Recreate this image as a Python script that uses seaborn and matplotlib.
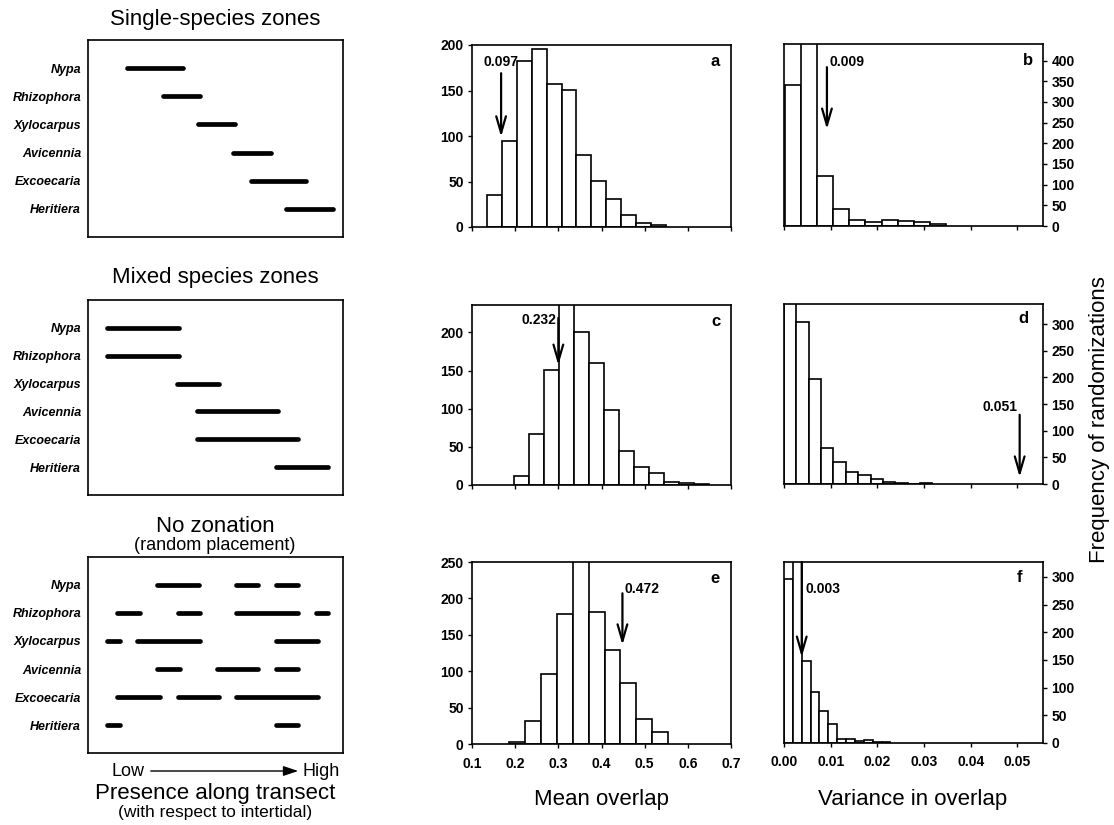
import numpy as np
import matplotlib
matplotlib.use("Agg")
import matplotlib.pyplot as plt
import seaborn as sns

sns.set_style("ticks", {"axes.edgecolor": "black", "text.color": "black",
                        "xtick.color": "black", "ytick.color": "black",
                        "axes.labelcolor": "black"})
plt.rcParams["font.family"] = ["Liberation Sans", "DejaVu Sans"]

W, H = 1114, 825

species = ["Nypa", "Rhizophora", "Xylocarpus", "Avicennia", "Excoecaria", "Heritiera"]

# presence along transect, 0 = low, 100 = high
single_start = [15.2, 29.3, 43.0, 56.7, 63.8, 77.6]
single_end = [37.1, 43.9, 57.6, 71.6, 85.3, 96.0]

mixed_start = [7.6, 7.6, 34.8, 42.6, 42.6, 73.7]
mixed_end = [35.8, 35.8, 51.4, 74.6, 82.5, 94.0]

random_species = ["Nypa", "Nypa", "Nypa",
                  "Rhizophora", "Rhizophora", "Rhizophora", "Rhizophora",
                  "Xylocarpus", "Xylocarpus", "Xylocarpus",
                  "Avicennia", "Avicennia", "Avicennia",
                  "Excoecaria", "Excoecaria", "Excoecaria",
                  "Heritiera", "Heritiera"]
random_start = [27.2, 58.0, 73.7,
                11.5, 35.2, 58.0, 89.4,
                7.6, 19.3, 73.7,
                27.2, 50.5, 73.7,
                11.5, 35.2, 58.0,
                7.6, 73.7]
random_end = [43.6, 66.8, 82.5,
              20.4, 43.9, 82.5, 94.1,
              12.5, 43.9, 90.3,
              36.1, 66.8, 82.5,
              28.2, 51.5, 90.3,
              12.5, 82.5]

# histogram bins (first edge, width) and counts per bin
a_bins = (0.1356, 0.0344)
a_counts = [35, 94, 182, 196, 157, 151, 79, 51, 31, 13, 4, 2]
b_bins = (0.0002, 0.00345)
b_counts = [341, 480, 120, 41, 15, 9, 15, 13, 9, 5]
c_bins = (0.1977, 0.0347)
c_counts = [12, 67, 151, 260, 200, 160, 98, 44, 23, 16, 4, 2, 1]
d_bins = (0.0, 0.00265)
d_counts = [360, 304, 197, 68, 42, 22, 17, 9, 3, 1, 0, 1]
e_bins = (0.1863, 0.0368)
e_counts = [3, 31, 96, 179, 300, 182, 129, 84, 34, 16]
f_bins = (0.0, 0.0019)
f_counts = [296, 350, 148, 92, 58, 34, 8, 8, 3, 5, 2, 1]

mean_ticks = [0.1, 0.2, 0.3, 0.4, 0.5, 0.6, 0.7]
var_ticks = [0.00, 0.01, 0.02, 0.03, 0.04, 0.05]


def rect(x0, y0, x1, y1):
    return [x0 / W, 1 - y1 / H, (x1 - x0) / W, (y1 - y0) / H]


def zone_panel(box, starts, ends, names, title, title_y):
    ax = fig.add_axes(rect(*box))
    rows = [species.index(n) + 1 for n in names]
    ax.hlines(rows, starts, ends, color="black", lw=3.4, capstyle="round")
    ax.set_xlim(0, 100)
    ax.set_ylim(7, 0)
    ax.set_xticks([])
    ax.set_yticks(range(1, 7))
    ax.set_yticklabels(species, fontsize=9, fontweight="bold", fontstyle="italic")
    ax.tick_params(axis="y", length=0, pad=5)
    for s in ax.spines.values():
        s.set_linewidth(1.2)
    fig.text(215 / W, 1 - title_y / H, title, ha="center", va="center", fontsize=16)
    return ax


def hist_panel(box, bins, counts, ymax, yticks, xlim, xticks, right=False, xlabels=False, fmt="%.1f"):
    ax = fig.add_axes(rect(*box))
    start, width = bins
    edges = start + width * np.arange(len(counts) + 1)
    centers = edges[:-1] + width / 2
    sns.histplot(x=list(centers), weights=list(counts), bins=list(edges), ax=ax, color="white",
                 edgecolor="black", linewidth=1.2, alpha=1)
    ax.set_xlim(*xlim)
    ax.set_ylim(0, ymax)
    ax.set_yticks(yticks)
    ax.set_xticks(xticks)
    if xlabels:
        ax.set_xticklabels([fmt % t for t in xticks])
    else:
        ax.set_xticklabels([])
    if right:
        ax.yaxis.tick_right()
    ax.set_xlabel("")
    ax.set_ylabel("")
    ax.tick_params(direction="out", length=3, width=1, labelsize=10, pad=3)
    ax.tick_params(axis="x", pad=6)
    for lab in ax.get_xticklabels() + ax.get_yticklabels():
        lab.set_fontweight("bold")
    for s in ax.spines.values():
        s.set_linewidth(1.2)
    return ax


def mark(ax, x, y_tip, y_tail, label, tx, ty, ha, letter, lx, ly):
    ax.annotate("", xy=(x, y_tip), xytext=(x, y_tail),
                arrowprops=dict(arrowstyle="->,head_length=1.2,head_width=0.35",
                                lw=1.6, color="black", shrinkA=0, shrinkB=0))
    ax.text(tx, ty, label, ha=ha, va="center", fontsize=10, fontweight="bold")
    ax.text(lx, ly, letter, transform=ax.transAxes, ha="center", va="center",
            fontsize=12, fontweight="bold")


fig = plt.figure(figsize=(W / 100, H / 100), dpi=100)

zone_panel((88, 40, 343, 237), single_start, single_end, species, "Single-species zones", 20)
zone_panel((88, 300, 343, 495), mixed_start, mixed_end, species, "Mixed species zones", 278)
zone_panel((88, 557, 343, 753), random_start, random_end, random_species, "No zonation", 527)
fig.text(215 / W, 1 - 546 / H, "(random placement)", ha="center", va="center", fontsize=13)

fig.text(128 / W, 1 - 771 / H, "Low", ha="center", va="center", fontsize=13)
fig.text(303 / W, 1 - 771 / H, "High", ha="left", va="center", fontsize=13)
fig.add_artist(matplotlib.patches.FancyArrowPatch(
    (148 / W, 1 - 771 / H), (301 / W, 1 - 771 / H), transform=fig.transFigure,
    arrowstyle="-|>,head_length=0.9,head_width=0.3", mutation_scale=10,
    lw=1.0, color="black"))
fig.text(215 / W, 1 - 793 / H, "Presence along transect", ha="center", va="center", fontsize=16)
fig.text(215 / W, 1 - 812 / H, "(with respect to intertidal)", ha="center", va="center", fontsize=12.5)

mx = (0.1, 0.7)
vx = (0.0, 0.0555)
ax_a = hist_panel((472, 45, 731, 227), a_bins, a_counts, 200, range(0, 201, 50), mx, mean_ticks)
ax_b = hist_panel((784, 44, 1043, 226), b_bins, b_counts, 440, range(0, 401, 50), vx, var_ticks, right=True)
ax_c = hist_panel((472, 305, 731, 485), c_bins, c_counts, 236, range(0, 201, 50), mx, mean_ticks)
ax_d = hist_panel((784, 304, 1043, 484), d_bins, d_counts, 338, range(0, 301, 50), vx, var_ticks, right=True)
ax_e = hist_panel((472, 562, 731, 744), e_bins, e_counts, 250, range(0, 251, 50), mx, mean_ticks, xlabels=True)
ax_f = hist_panel((784, 562, 1043, 743), f_bins, f_counts, 327, range(0, 301, 50), vx, var_ticks,
                  right=True, xlabels=True, fmt="%.2f")

mark(ax_a, 0.1674, 99, 169, "0.097", 0.1674, 181, "center", "a", 0.938, 0.907)
mark(ax_b, 0.0092, 234, 384, "0.009", 0.0097, 396, "left", "b", 0.942, 0.907)
mark(ax_c, 0.300, 157, 219, "0.232", 0.2953, 216, "right", "c", 0.944, 0.911)
mark(ax_d, 0.0505, 13, 130, "0.051", 0.0500, 145, "right", "d", 0.923, 0.920)
mark(ax_e, 0.4485, 136, 207, "0.472", 0.453, 213, "left", "e", 0.940, 0.912)
mark(ax_f, 0.0038, 155, 327, "0.003", 0.0047, 278, "left", "f", 0.911, 0.917)

fig.text(602 / W, 1 - 800 / H, "Mean overlap", ha="center", va="center", fontsize=16)
fig.text(913 / W, 1 - 800 / H, "Variance in overlap", ha="center", va="center", fontsize=16)
fig.text(1100 / W, 1 - 420 / H, "Frequency of randomizations", ha="center", va="center",
         fontsize=16, rotation=90)

fig.savefig("out.png", dpi=100)
